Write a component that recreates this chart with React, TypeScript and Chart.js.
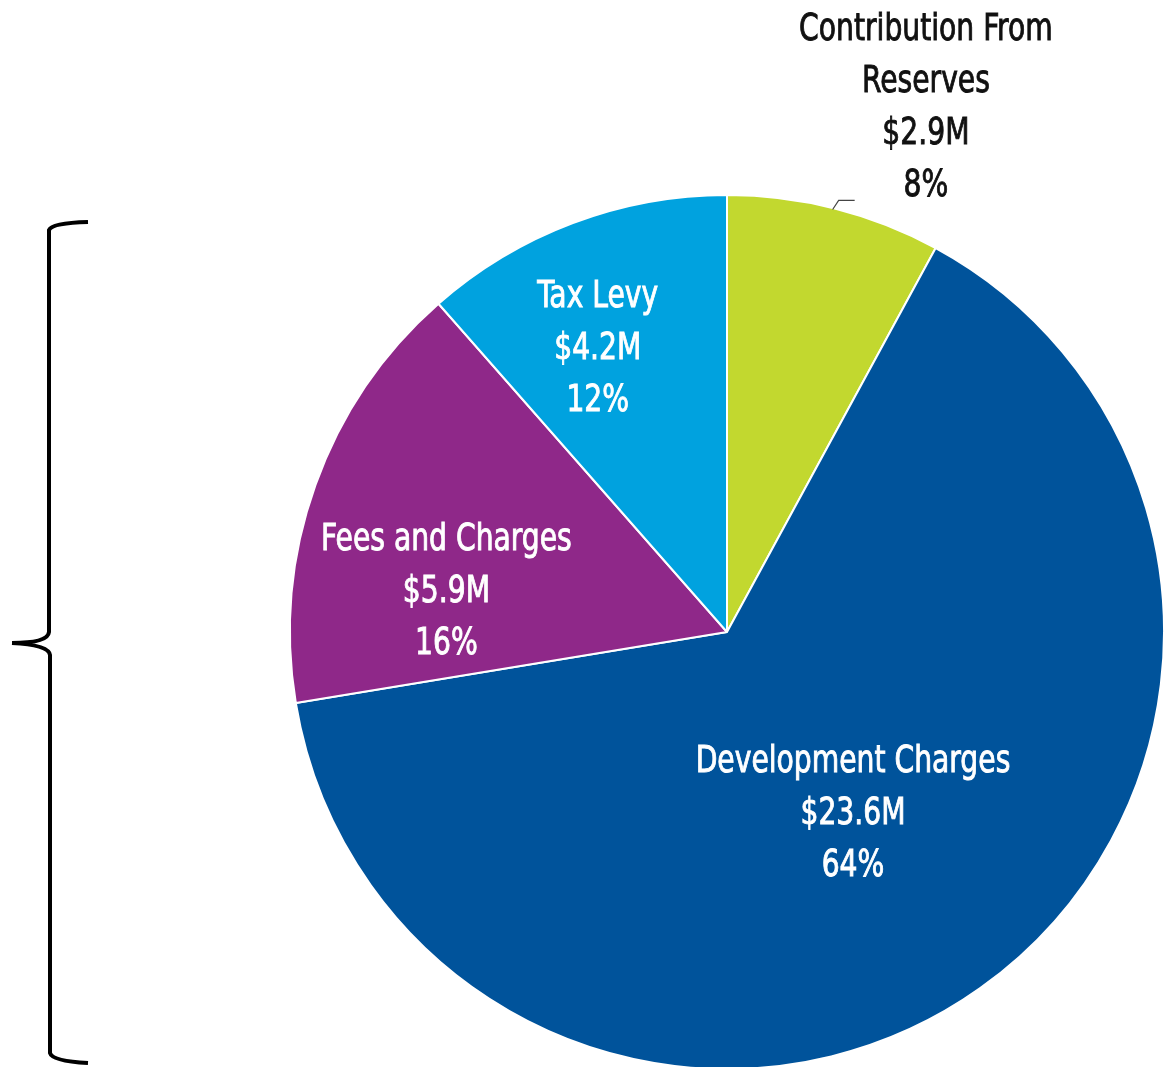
import React, { useEffect, useRef } from "react";
import { Chart, registerables } from "chart.js";

Chart.register(...registerables);

const categories = ["Contribution From Reserves", "Development Charges", "Fees and Charges", "Tax Levy"];
const labelLines = [["Contribution From", "Reserves"], ["Development Charges"], ["Fees and Charges"], ["Tax Levy"]];
const valuesM = [2.9, 23.6, 5.9, 4.2];
const percentLabels = ["8%", "64%", "16%", "12%"];
const colors = ["#C2D82F", "#00539B", "#8F2889", "#00A2DF"];
const textColors = ["#111111", "#FFFFFF", "#FFFFFF", "#FFFFFF"];
// label placement: angle shift from slice middle (deg) and radius fraction
const labelAngleShift = [6.4, 0.2, -10.7, -3.6];
const labelRadiusFrac = [1.29, 0.5, 0.65, 0.72];

const FONT = '38px "DejaVu Sans Condensed", "Liberation Sans Narrow", sans-serif';
const LINE_H = 52;
const X_SCALE = 0.825;
const Y_NUDGE = 4;

const labelPlugin = {
  id: "sliceLabels",
  afterDatasetsDraw(chart: any) {
    const ctx = chart.ctx as CanvasRenderingContext2D;
    const meta = chart.getDatasetMeta(0);
    ctx.save();
    ctx.font = FONT;
    ctx.textAlign = "center";
    ctx.textBaseline = "middle";
    meta.data.forEach((arc: any, i: number) => {
      const { x, y, startAngle, endAngle, outerRadius } = arc.getProps(
        ["x", "y", "startAngle", "endAngle", "outerRadius"],
        true
      );
      const mid = (startAngle + endAngle) / 2;
      const a = mid + (labelAngleShift[i] * Math.PI) / 180;
      const r = outerRadius * labelRadiusFrac[i];
      const cx = x + Math.cos(a) * r;
      const cy = y + Math.sin(a) * r + Y_NUDGE;
      const lines = [...labelLines[i], "$" + valuesM[i].toFixed(1) + "M", percentLabels[i]];
      const top = cy - ((lines.length - 1) * LINE_H) / 2;
      ctx.fillStyle = textColors[i];
      ctx.strokeStyle = textColors[i];
      ctx.lineWidth = 0.9;
      lines.forEach((t, k) => {
        ctx.save();
        ctx.translate(cx, top + k * LINE_H);
        ctx.scale(X_SCALE, 1);
        ctx.fillText(t, 0, 0);
        ctx.strokeText(t, 0, 0);
        ctx.restore();
      });
      if (labelRadiusFrac[i] > 1) {
        // leader line from slice edge
        const ex = x + Math.cos(mid) * outerRadius;
        const ey = y + Math.sin(mid) * outerRadius;
        ctx.strokeStyle = "#444444";
        ctx.lineWidth = 1.2;
        ctx.beginPath();
        ctx.moveTo(ex - 2, ey + 1);
        ctx.lineTo(ex + 4, ey - 8);
        ctx.lineTo(ex + 20, ey - 8);
        ctx.stroke();
      }
    });
    ctx.restore();
  },
};

const bracePlugin = {
  id: "brace",
  afterDraw(chart: any) {
    const ctx = chart.ctx as CanvasRenderingContext2D;
    ctx.save();
    ctx.strokeStyle = "#000000";
    ctx.lineWidth = 4;
    ctx.lineCap = "butt";
    ctx.beginPath();
    ctx.moveTo(88, 222);
    ctx.quadraticCurveTo(52, 223, 49, 230);
    ctx.lineTo(49, 632);
    ctx.quadraticCurveTo(48, 643, 12, 643);
    ctx.moveTo(12, 643);
    ctx.quadraticCurveTo(49, 645, 50, 655);
    ctx.lineTo(50, 1053);
    ctx.quadraticCurveTo(52, 1061, 88, 1063);
    ctx.stroke();
    ctx.restore();
  },
};

export default function App() {
  const ref = useRef<HTMLCanvasElement | null>(null);
  useEffect(() => {
    document.body.style.margin = "0";
    document.body.style.overflow = "hidden";
    const chart = new Chart(ref.current as HTMLCanvasElement, {
      type: "pie",
      data: {
        labels: categories,
        datasets: [
          {
            data: valuesM,
            backgroundColor: colors,
            borderColor: "#FFFFFF",
            borderWidth: 2,
          },
        ],
      },
      options: {
        responsive: false,
        animation: false,
        layout: { padding: { left: 289, top: 194, right: 2, bottom: 0 } },
        plugins: { legend: { display: false }, tooltip: { enabled: false } },
      },
      plugins: [labelPlugin, bracePlugin],
    });
    return () => chart.destroy();
  }, []);
  return (
    <div style={{ position: "absolute", left: 0, top: 0, width: 1167, height: 1070, background: "#fff" }}>
      <canvas ref={ref} width={1167} height={1070} style={{ display: "block" }} />
    </div>
  );
}
